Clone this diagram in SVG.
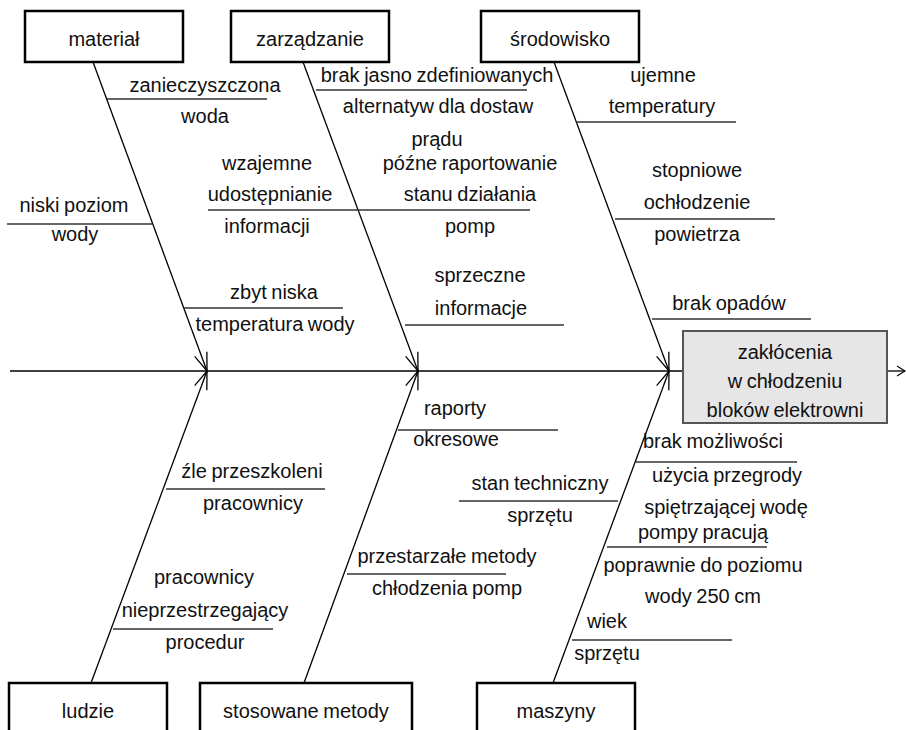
<svg xmlns="http://www.w3.org/2000/svg" width="906" height="730" viewBox="0 0 906 730">
<defs>
<marker id="ah" markerUnits="userSpaceOnUse" markerWidth="24" markerHeight="20" refX="0" refY="0" viewBox="-20 -10 24 20" orient="auto" overflow="visible">
<path d="M-18,-6.5 L0,0 L-18,6.5" fill="none" stroke="#000" stroke-width="1.3"/>
</marker>
<marker id="ah2" markerUnits="userSpaceOnUse" markerWidth="12" markerHeight="12" refX="0" refY="0" viewBox="-10 -6 12 12" orient="auto" overflow="visible">
<path d="M-8,-5 L0,0 L-8,5" fill="none" stroke="#000" stroke-width="1.2"/>
</marker>
</defs>
<style>
text{font-family:"Liberation Sans","Noto Sans",sans-serif;font-size:20px;fill:#111;text-anchor:middle;word-spacing:-1px}
.box{fill:#fff;stroke:#000;stroke-width:2.5}
.eff{fill:#e6e6e6;stroke:#555;stroke-width:2}
.bone{stroke:#000;stroke-width:1.3;fill:none}
.sub{stroke:#333;stroke-width:1.5;fill:none}
</style>
<rect width="906" height="730" fill="#fff"/>

<g id="connectors">
<line class="bone" x1="10" y1="371" x2="683" y2="371"/>
<line class="bone" x1="887" y1="371" x2="905" y2="371" marker-end="url(#ah2)"/>
<line class="bone" x1="93" y1="62" x2="207" y2="371" marker-end="url(#ah)"/>
<line class="bone" x1="303" y1="62" x2="418" y2="371" marker-end="url(#ah)"/>
<line class="bone" x1="554" y1="62" x2="669" y2="371" marker-end="url(#ah)"/>
<line class="bone" x1="91" y1="683" x2="207" y2="371" marker-end="url(#ah)"/>
<line class="bone" x1="304" y1="683" x2="418" y2="371" marker-end="url(#ah)"/>
<line class="bone" x1="553" y1="683" x2="669" y2="371" marker-end="url(#ah)"/>
</g>

<g id="effect">
<rect class="eff" x="683" y="331" width="204" height="92"/>
<text x="785" y="359">zakłócenia</text>
<text x="785" y="388">w chłodzeniu</text>
<text x="785" y="417">bloków elektrowni</text>
</g>

<g id="material">
<rect class="box" x="25" y="11" width="158" height="51"/>
<text x="104" y="46">materiał</text>
</g>
<g id="zarzadzanie">
<rect class="box" x="231" y="11" width="158" height="51"/>
<text x="310" y="46">zarządzanie</text>
</g>
<g id="srodowisko">
<rect class="box" x="481" y="11" width="158" height="51"/>
<text x="560" y="46">środowisko</text>
</g>
<g id="ludzie">
<rect class="box" x="9" y="683" width="158" height="60"/>
<text x="88" y="718">ludzie</text>
</g>
<g id="metody">
<rect class="box" x="200" y="683" width="212" height="60"/>
<text x="306" y="718">stosowane metody</text>
</g>
<g id="maszyny">
<rect class="box" x="477" y="683" width="158" height="60"/>
<text x="556" y="718">maszyny</text>
</g>

<g id="c-zanieczyszczona">
<line class="sub" x1="107" y1="99" x2="267" y2="99"/>
<text x="205" y="92">zanieczyszczona</text>
<text x="205" y="123">woda</text>
</g>
<g id="c-niski">
<line class="sub" x1="7" y1="224" x2="152" y2="224"/>
<text x="74" y="212">niski poziom</text>
<text x="75" y="241">wody</text>
</g>
<g id="c-zbyt">
<line class="sub" x1="184" y1="308" x2="343" y2="308"/>
<text x="274" y="299">zbyt niska</text>
<text x="275" y="331">temperatura wody</text>
</g>
<g id="c-wzajemne">
<text x="267" y="170">wzajemne</text>
<text x="270" y="201">udostępnianie</text>
<text x="267" y="233">informacji</text>
</g>
<g id="c-brak-jasno">
<line class="sub" x1="316" y1="90" x2="527" y2="90"/>
<text x="437" y="82">brak jasno zdefiniowanych</text>
<text x="438" y="113">alternatyw dla dostaw</text>
<text x="437" y="146">prądu</text>
</g>
<g id="c-pozne">
<line class="sub" x1="208" y1="210" x2="530" y2="210"/>
<text x="470" y="170">późne raportowanie</text>
<text x="470" y="201">stanu działania</text>
<text x="470" y="233">pomp</text>
</g>
<g id="c-sprzeczne">
<line class="sub" x1="405" y1="325" x2="564" y2="325"/>
<text x="480" y="282">sprzeczne</text>
<text x="481" y="315">informacje</text>
</g>
<g id="c-ujemne">
<line class="sub" x1="576" y1="122" x2="736" y2="122"/>
<text x="663" y="82">ujemne</text>
<text x="662" y="113">temperatury</text>
</g>
<g id="c-stopniowe">
<line class="sub" x1="615" y1="219" x2="775" y2="219"/>
<text x="697" y="177">stopniowe</text>
<text x="697" y="209">ochłodzenie</text>
<text x="697" y="241">powietrza</text>
</g>
<g id="c-opadow">
<line class="sub" x1="652" y1="319" x2="811" y2="319"/>
<text x="729" y="310">brak opadów</text>
</g>
<g id="c-zle">
<line class="sub" x1="166" y1="489" x2="325" y2="489"/>
<text x="252" y="478">źle przeszkoleni</text>
<text x="253" y="510">pracownicy</text>
</g>
<g id="c-nieprzestrz">
<line class="sub" x1="113" y1="629" x2="273" y2="629"/>
<text x="204" y="584">pracownicy</text>
<text x="205" y="617">nieprzestrzegający</text>
<text x="205" y="649">procedur</text>
</g>
<g id="c-raporty">
<line class="sub" x1="398" y1="430" x2="558" y2="430"/>
<text x="455" y="415">raporty</text>
<text x="456" y="446">okresowe</text>
</g>
<g id="c-przestarzale">
<line class="sub" x1="347" y1="574" x2="506" y2="574"/>
<text x="447" y="563">przestarzałe metody</text>
<text x="447" y="595">chłodzenia pomp</text>
</g>
<g id="c-stan">
<line class="sub" x1="459" y1="501" x2="618" y2="501"/>
<text x="540" y="490">stan techniczny</text>
<text x="540" y="522">sprzętu</text>
</g>
<g id="c-brak-mozl">
<line class="sub" x1="636" y1="462" x2="797" y2="462"/>
<text x="713" y="448">brak możliwości</text>
<text x="727" y="482">użycia przegrody</text>
<text x="726" y="514">spiętrzającej wodę</text>
</g>
<g id="c-pompy">
<line class="sub" x1="607" y1="547" x2="767" y2="547"/>
<text x="703" y="539">pompy pracują</text>
<text x="703" y="572">poprawnie do poziomu</text>
<text x="703" y="603">wody 250 cm</text>
</g>
<g id="c-wiek">
<line class="sub" x1="572" y1="640" x2="732" y2="640"/>
<text x="607" y="628">wiek</text>
<text x="607" y="660">sprzętu</text>
</g>
</svg>
